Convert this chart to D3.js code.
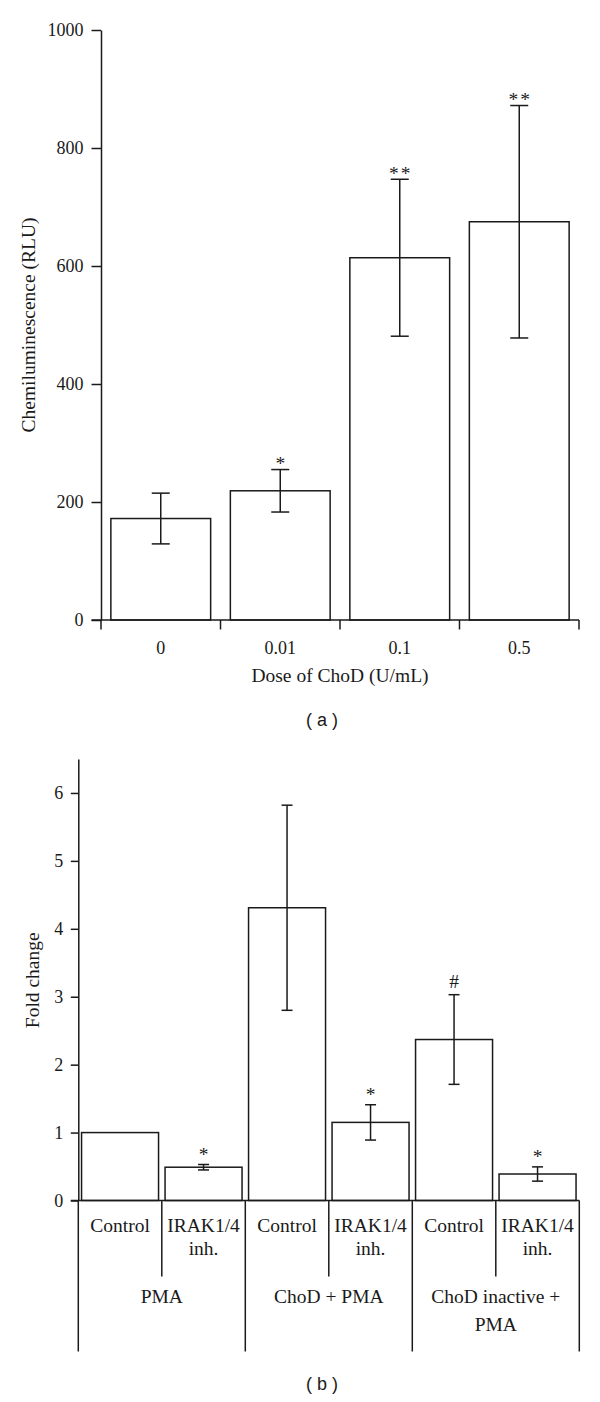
<!DOCTYPE html>
<html>
<head>
<meta charset="utf-8">
<script src="https://cdn.jsdelivr.net/npm/d3@7"></script>
<style>
  html, body { margin: 0; padding: 0; background: #fff; }
  svg { display: block; }
  text { fill: #1a1a1a; }
</style>
</head>
<body>
<div id="chart"></div>
<script>
// Panel (a) data
const doseLabels = ["0", "0.01", "0.1", "0.5"];
const doseMeans = [172, 219, 614, 675];
const doseErrors = [43, 36, 133, 197];
const doseMarks = ["", "*", "**", "**"];
const doseTicks = [0, 200, 400, 600, 800, 1000];

// Panel (b) data
const treatmentLabels = [["Control"], ["IRAK1/4", "inh."], ["Control"], ["IRAK1/4", "inh."], ["Control"], ["IRAK1/4", "inh."]];
const groupLabels = [["PMA"], ["ChoD + PMA"], ["ChoD inactive +", "PMA"]];
const foldMeans = [1.0, 0.49, 4.31, 1.15, 2.37, 0.39];
const foldErrors = [0, 0.04, 1.51, 0.26, 0.66, 0.105];
const foldMarks = ["", "*", "", "*", "#", "*"];
const foldTicks = [0, 1, 2, 3, 4, 5, 6];

// Configuration
const width = 600;
const height = 1402;
const ink = "#1a1a1a";
const serif = "'Liberation Serif', 'Times New Roman', serif";
const stroke = 1.5;

const svg = d3.select("#chart")
    .append("svg")
    .attr("width", width)
    .attr("height", height)
    .attr("viewBox", [0, 0, width, height]);

function styleAxis(g, fontSize) {
    g.selectAll("path.domain").attr("stroke", ink).attr("stroke-width", stroke);
    g.selectAll(".tick line").attr("stroke", ink).attr("stroke-width", stroke);
    g.selectAll(".tick text")
        .attr("fill", ink)
        .style("font-family", serif)
        .style("font-size", fontSize + "px");
}

function drawErrorBars(g, x, y, means, errors, cap) {
    const idx = d3.range(means.length).filter(i => errors[i] > 0);
    const eb = g.append("g")
        .attr("stroke", ink)
        .attr("stroke-width", stroke);
    idx.forEach(i => {
        const cx = x(i) + x.bandwidth() / 2;
        const top = y(means[i] + errors[i]);
        const bot = y(means[i] - errors[i]);
        eb.append("line").attr("x1", cx).attr("x2", cx).attr("y1", top).attr("y2", bot);
        eb.append("line").attr("x1", cx - cap / 2).attr("x2", cx + cap / 2).attr("y1", top).attr("y2", top);
        eb.append("line").attr("x1", cx - cap / 2).attr("x2", cx + cap / 2).attr("y1", bot).attr("y2", bot);
    });
}

// ---------------- Panel (a) ----------------
const yA = d3.scaleLinear().domain([0, 1000]).range([620, 30]);
const xA = d3.scaleBand()
    .domain(d3.range(doseLabels.length))
    .range([101, 579])
    .paddingInner(0.165)
    .paddingOuter(0.0825);

const panelA = svg.append("g");

// bars
panelA.append("g")
    .selectAll("rect")
    .data(doseMeans)
    .join("rect")
    .attr("x", (d, i) => xA(i))
    .attr("y", d => yA(d))
    .attr("width", xA.bandwidth())
    .attr("height", d => yA(0) - yA(d))
    .attr("fill", "#fff")
    .attr("stroke", ink)
    .attr("stroke-width", stroke);

drawErrorBars(panelA, xA, yA, doseMeans, doseErrors, 18);

// significance marks
panelA.append("g")
    .selectAll("text")
    .data(doseMarks)
    .join("text")
    .attr("x", (d, i) => xA(i) + xA.bandwidth() / 2 + (d.length > 1 ? 1 : 0))
    .attr("y", (d, i) => yA(doseMeans[i] + doseErrors[i]) - 9 + 9.5)
    .attr("text-anchor", "middle")
    .style("font-family", serif)
    .style("font-size", "19.5px")
    .style("letter-spacing", d => d.length > 1 ? "2px" : "0px")
    .text(d => d);

// y axis
const axisA = panelA.append("g")
    .attr("transform", `translate(${xA.range()[0]},0)`)
    .call(d3.axisLeft(yA).tickValues(doseTicks).tickFormat(d3.format("d"))
        .tickSize(9.5).tickSizeOuter(0).tickPadding(8));
styleAxis(axisA, 18);

// x axis: baseline, boundary ticks, labels
const [a0, a1] = xA.range();
panelA.append("line")
    .attr("x1", a0 - 9.5).attr("x2", a1)
    .attr("y1", yA(0)).attr("y2", yA(0))
    .attr("stroke", ink).attr("stroke-width", stroke);
panelA.append("g")
    .selectAll("line")
    .data(d3.range(doseLabels.length + 1))
    .join("line")
    .attr("x1", i => a0 + i * xA.step())
    .attr("x2", i => a0 + i * xA.step())
    .attr("y1", yA(0))
    .attr("y2", yA(0) + 9.5)
    .attr("stroke", ink).attr("stroke-width", stroke);
panelA.append("g")
    .selectAll("text")
    .data(doseLabels)
    .join("text")
    .attr("x", (d, i) => xA(i) + xA.bandwidth() / 2)
    .attr("y", 654)
    .attr("text-anchor", "middle")
    .style("font-family", serif)
    .style("font-size", "18px")
    .text(d => d);

panelA.append("text")
    .attr("x", (a0 + a1) / 2)
    .attr("y", 682)
    .attr("text-anchor", "middle")
    .style("font-family", serif)
    .style("font-size", "19.5px")
    .text("Dose of ChoD (U/mL)");

panelA.append("text")
    .attr("transform", `translate(35,${(yA(0) + yA(1000)) / 2}) rotate(-90)`)
    .attr("text-anchor", "middle")
    .style("font-family", serif)
    .style("font-size", "19.5px")
    .text("Chemiluminescence (RLU)");

panelA.append("text")
    .attr("x", 322)
    .attr("y", 726)
    .attr("text-anchor", "middle")
    .style("font-family", "'Liberation Sans', Arial, sans-serif")
    .style("font-size", "18px")
    .attr("xml:space", "preserve")
    .text("( a )");

// ---------------- Panel (b) ----------------
const yB = d3.scaleLinear().domain([0, 6.5]).range([1200.5, 759]);
const xB = d3.scaleBand()
    .domain(d3.range(foldMeans.length))
    .range([78.3, 579.3])
    .paddingInner(0.078)
    .paddingOuter(0.039);

const panelB = svg.append("g");

panelB.append("g")
    .selectAll("rect")
    .data(foldMeans)
    .join("rect")
    .attr("x", (d, i) => xB(i))
    .attr("y", d => yB(d))
    .attr("width", xB.bandwidth())
    .attr("height", d => yB(0) - yB(d))
    .attr("fill", "#fff")
    .attr("stroke", ink)
    .attr("stroke-width", stroke);

drawErrorBars(panelB, xB, yB, foldMeans, foldErrors, 11);

panelB.append("g")
    .selectAll("text")
    .data(foldMarks)
    .join("text")
    .attr("x", (d, i) => xB(i) + xB.bandwidth() / 2)
    .attr("y", (d, i) => yB(foldMeans[i] + foldErrors[i]) - 13 + (d === "#" ? 6.5 : 9.5))
    .attr("text-anchor", "middle")
    .style("font-family", serif)
    .style("font-size", "19.5px")
    .text(d => d);

const axisB = panelB.append("g")
    .attr("transform", `translate(${xB.range()[0]},0)`)
    .call(d3.axisLeft(yB).tickValues(foldTicks).tickFormat(d3.format("d"))
        .tickSize(7.5).tickSizeOuter(0).tickPadding(7.5));
styleAxis(axisB, 18);

const [b0, b1] = xB.range();
const stepB = xB.step();
panelB.append("line")
    .attr("x1", b0 - 7.5).attr("x2", b1)
    .attr("y1", yB(0)).attr("y2", yB(0))
    .attr("stroke", ink).attr("stroke-width", stroke);

// separators: short between treatments of a group, long between groups
const seps = panelB.append("g").attr("stroke", ink).attr("stroke-width", stroke);
d3.range(treatmentLabels.length + 1).forEach(i => {
    const x = b0 + i * stepB;
    const long = i % 2 === 0;
    seps.append("line")
        .attr("x1", x).attr("x2", x)
        .attr("y1", yB(0))
        .attr("y2", long ? 1351.5 : 1276.5);
});

// treatment labels
treatmentLabels.forEach((lines, i) => {
    lines.forEach((t, j) => {
        panelB.append("text")
            .attr("x", xB(i) + xB.bandwidth() / 2)
            .attr("y", 1231.5 + j * 23.5)
            .attr("text-anchor", "middle")
            .style("font-family", serif)
            .style("font-size", "19.5px")
            .text(t);
    });
});

// group labels
groupLabels.forEach((lines, g) => {
    lines.forEach((t, j) => {
        panelB.append("text")
            .attr("x", b0 + (g * 2 + 1) * stepB)
            .attr("y", 1302.5 + j * 28.5)
            .attr("text-anchor", "middle")
            .style("font-family", serif)
            .style("font-size", "19.5px")
            .text(t);
    });
});

panelB.append("text")
    .attr("transform", `translate(39,${(yB(0) + yB(6.5)) / 2 + 0.5}) rotate(-90)`)
    .attr("text-anchor", "middle")
    .style("font-family", serif)
    .style("font-size", "19.5px")
    .text("Fold change");

panelB.append("text")
    .attr("x", 322)
    .attr("y", 1389.5)
    .attr("text-anchor", "middle")
    .style("font-family", "'Liberation Sans', Arial, sans-serif")
    .style("font-size", "18px")
    .attr("xml:space", "preserve")
    .text("( b )");
</script>
</body>
</html>
